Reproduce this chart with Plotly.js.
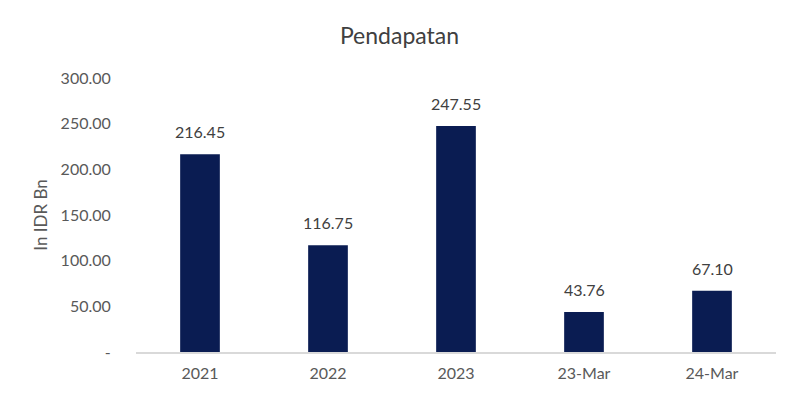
<!DOCTYPE html>
<html>
<head>
<meta charset="utf-8">
<script src="https://cdn.plot.ly/plotly-3.0.1.min.js"></script>
<style>html,body{margin:0;padding:0;background:#fff;}#chart{width:799px;height:399px;}</style>
</head>
<body>
<div id="chart"></div>
<script>
const categories = ["2021", "2022", "2023", "23-Mar", "24-Mar"];
const revenue = [216.45, 116.75, 247.55, 43.76, 67.10];
const yTickVals = [0, 50, 100, 150, 200, 250, 300];
const yTickText = ["-", "50.00", "100.00", "150.00", "200.00", "250.00", "300.00"];

const font = "Lato, 'Open Sans', 'Liberation Sans', sans-serif";

// category axis: annotation x given as category index
const labels = categories.map((c, i) => ({
  x: i, y: revenue[i], xref: "x", yref: "y",
  text: revenue[i].toFixed(2), showarrow: false,
  yanchor: "bottom", yshift: 11,
  font: {family: font, size: 16, color: "#404040"}
}));

Plotly.newPlot("chart", [{
  type: "bar",
  x: categories,
  y: revenue,
  marker: {color: "#0A1C52"},
  hoverinfo: "skip"
}], {
  width: 799, height: 399,
  margin: {l: 136, r: 23, t: 78, b: 47},
  paper_bgcolor: "#fff", plot_bgcolor: "#fff",
  bargap: 0.69,
  showlegend: false,
  annotations: labels,
  title: {text: "Pendapatan", x: 0.5, xanchor: "center", y: 0.91, yanchor: "middle",
          font: {family: font, size: 23, color: "#404040"}},
  xaxis: {
    type: "category",
    range: [-0.5, categories.length - 0.5],
    showline: true, linecolor: "#D9D9D9", linewidth: 1.5,
    showgrid: false, zeroline: false, ticks: "outside", ticklen: 6, tickcolor: "rgba(0,0,0,0)",
    tickfont: {family: font, size: 16, color: "#595959"}
  },
  yaxis: {
    range: [0, 300],
    tickvals: yTickVals, ticktext: yTickText,
    showgrid: false, zeroline: false, showline: false,
    ticks: "outside", ticklen: 21, tickcolor: "rgba(0,0,0,0)",
    tickfont: {family: font, size: 16, color: "#595959"},
    title: {text: "In IDR Bn", standoff: 8, font: {family: font, size: 17, color: "#595959"}}
  }
}, {staticPlot: true});
</script>
</body>
</html>
